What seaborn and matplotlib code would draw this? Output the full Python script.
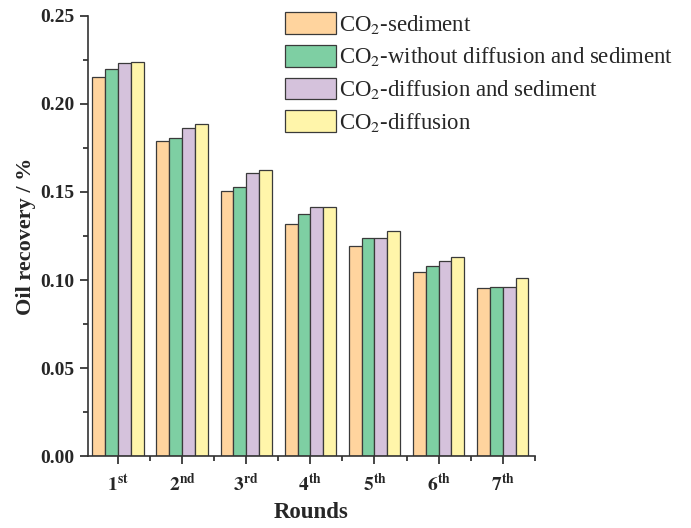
import matplotlib
matplotlib.use("Agg")
import matplotlib.pyplot as plt
import seaborn as sns
import pandas as pd
from matplotlib.ticker import MultipleLocator, FixedLocator, FormatStrFormatter

rounds = [r'$\mathbf{1^{st}}$', r'$\mathbf{2^{nd}}$', r'$\mathbf{3^{rd}}$', r'$\mathbf{4^{th}}$',
          r'$\mathbf{5^{th}}$', r'$\mathbf{6^{th}}$', r'$\mathbf{7^{th}}$']
series = ['CO$_2$-sediment', 'CO$_2$-without diffusion and sediment',
          'CO$_2$-diffusion and sediment', 'CO$_2$-diffusion']
sediment = [0.215, 0.1788, 0.1506, 0.1318, 0.1193, 0.1047, 0.0953]
without_diff_sed = [0.2197, 0.1805, 0.1530, 0.1377, 0.1237, 0.1080, 0.0962]
diff_sed = [0.2233, 0.1864, 0.1608, 0.1413, 0.1240, 0.1108, 0.0962]
diffusion = [0.2237, 0.1886, 0.1623, 0.1415, 0.1278, 0.1130, 0.1013]
colors = ['#FFD49E', '#7ECFA3', '#D5C2DC', '#FFF5AA']

rows = []
for name, vals in zip(series, [sediment, without_diff_sed, diff_sed, diffusion]):
    for r, v in zip(rounds, vals):
        rows.append({'Round': r, 'Series': name, 'Recovery': v})
df = pd.DataFrame(rows)

sns.set_style('ticks')
plt.rcParams['font.family'] = ['Liberation Serif', 'DejaVu Serif']
plt.rcParams['mathtext.fontset'] = 'stix'

fig = plt.figure(figsize=(6.91, 5.28), dpi=100)
ax = fig.add_axes([0.127, 0.136, 0.647, 0.834])
sns.barplot(data=df, x='Round', y='Recovery', hue='Series', palette=colors,
            saturation=1, width=0.8, edgecolor='#3a3a3a', linewidth=0.9,
            ax=ax, legend=True)

ax.set_ylim(0, 0.25)
ax.set_xlim(-0.47, 6.5)
ax.yaxis.set_major_locator(MultipleLocator(0.05))
ax.yaxis.set_minor_locator(MultipleLocator(0.025))
ax.xaxis.set_minor_locator(FixedLocator([i + 0.5 for i in range(-1, 7)]))
ax.yaxis.set_major_formatter(FormatStrFormatter('%.2f'))
ax.tick_params(which='major', length=6, width=1.2, direction='out', labelsize=14)
ax.tick_params(which='minor', length=3.5, width=1.2, direction='out')
for lbl in ax.get_yticklabels():
    lbl.set_fontweight('bold')
ax.tick_params(axis='x', labelsize=14, pad=6)
sns.despine(ax=ax)
for s in ['left', 'bottom']:
    ax.spines[s].set_linewidth(1.2)
    ax.spines[s].set_color('#333333')

ax.set_xlabel('Rounds', fontsize=16.5, fontweight='bold', labelpad=5)
ax.set_ylabel('Oil recovery / %', fontsize=16, fontweight='bold', labelpad=3)

ax.legend(loc='upper left', bbox_to_anchor=(285 / 691, 1 - 12 / 528),
          bbox_transform=fig.transFigure, frameon=False, fontsize=16.4,
          handlelength=2.25, handleheight=1.1, labelspacing=0.4,
          handletextpad=0.12, borderpad=0, borderaxespad=0, title=None)

fig.savefig('out.png', dpi=100)
